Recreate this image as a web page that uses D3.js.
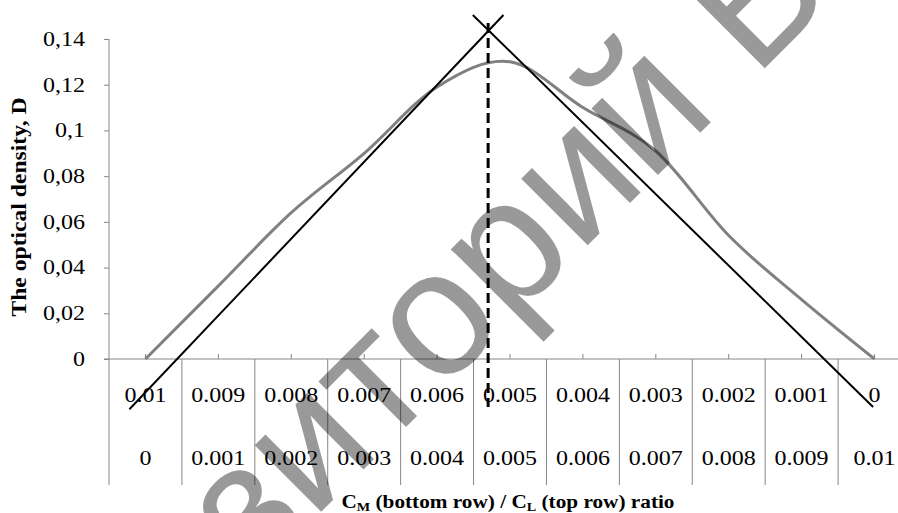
<!DOCTYPE html>
<html>
<head>
<meta charset="utf-8">
<script src="https://cdn.jsdelivr.net/npm/d3@7"></script>
<style>
  body { margin: 0; background: #fff; }
  svg { display: block; }
</style>
</head>
<body>
<svg id="chart" width="898" height="513"></svg>
<script>
// category table: C_L on top, C_M on bottom
const topRow = ['0.01', '0.009', '0.008', '0.007', '0.006', '0.005', '0.004', '0.003', '0.002', '0.001', '0'];
const bottomRow = ['0', '0.001', '0.002', '0.003', '0.004', '0.005', '0.006', '0.007', '0.008', '0.009', '0.01'];
// optical density
const density = [0, 0.032, 0.064, 0.090, 0.119, 0.130, 0.110, 0.091, 0.054, 0.026, 0];
const yTicks = [0, 0.02, 0.04, 0.06, 0.08, 0.1, 0.12, 0.14];
// tangent lines and the dashed peak marker, as [category index, D]
const leftTangent = [[-0.22, -0.022], [4.91, 0.1505]];
const rightTangent = [[4.49, 0.1505], [9.98, -0.021]];
const peakLine = [[4.70, 0.147], [4.70, -0.021]];

const svg = d3.select('#chart');
const x = d3.scaleLinear().domain([-0.5, 10.5]).range([109, 911]);
const y = d3.scaleLinear().domain([0, 0.14]).range([359, 39]);
const tableBottom = 485;
const axisColor = '#868686';
const serif = '"Times New Roman", "Liberation Serif", serif';

// y axis
const yAxis = d3.axisLeft(y)
  .tickValues(yTicks)
  .tickSize(5)
  .tickPadding(19)
  .tickFormat(d => d === 0 ? '0' : String(+d.toFixed(2)).replace('.', ','));
const gy = svg.append('g')
  .attr('transform', `translate(${x(-0.5)},0)`)
  .call(yAxis);
gy.select('.domain').remove();
gy.selectAll('line').attr('stroke', axisColor);
gy.selectAll('text')
  .attr('class', 'stretch')
  .attr('font-family', serif)
  .attr('font-size', 20)
  .attr('fill', '#000');

svg.append('line')
  .attr('x1', x(-0.5)).attr('x2', x(-0.5))
  .attr('y1', y(0.14)).attr('y2', tableBottom)
  .attr('stroke', axisColor);

// category axis + table
svg.append('line')
  .attr('x1', x(-0.5) - 5).attr('x2', x(10.5))
  .attr('y1', y(0)).attr('y2', y(0))
  .attr('stroke', axisColor);

svg.append('g').selectAll('line')
  .data(d3.range(1, 12))
  .join('line')
  .attr('x1', i => x(i - 0.5)).attr('x2', i => x(i - 0.5))
  .attr('y1', y(0)).attr('y2', tableBottom)
  .attr('stroke', axisColor);

svg.append('g').selectAll('line')
  .data(d3.range(topRow.length))
  .join('line')
  .attr('x1', i => x(i)).attr('x2', i => x(i))
  .attr('y1', y(0)).attr('y2', y(0) - 5)
  .attr('stroke', axisColor);

function rowLabels(labels, cy) {
  svg.append('g').selectAll('text')
    .data(labels)
    .join('text')
    .attr('class', 'stretch')
    .attr('x', (d, i) => x(i))
    .attr('y', cy)
    .attr('dy', '0.35em')
    .attr('text-anchor', 'middle')
    .attr('font-family', serif)
    .attr('font-size', 20)
    .text(d => d);
}
rowLabels(topRow, 395);
rowLabels(bottomRow, 458);

// axis titles
svg.append('text')
  .attr('transform', 'translate(26,207) rotate(-90)')
  .attr('text-anchor', 'middle')
  .attr('font-family', serif)
  .attr('font-weight', 'bold')
  .attr('font-size', 20)
  .attr('textLength', 219)
  .attr('lengthAdjust', 'spacingAndGlyphs')
  .text('The optical density, D');

const xt = svg.append('text')
  .attr('x', 508)
  .attr('y', 508)
  .attr('text-anchor', 'middle')
  .attr('font-family', serif)
  .attr('font-weight', 'bold')
  .attr('font-size', 18)
  .attr('textLength', 333)
  .attr('lengthAdjust', 'spacingAndGlyphs');
xt.append('tspan').text('C');
xt.append('tspan').attr('font-size', 12).attr('dy', 3).text('M');
xt.append('tspan').attr('dy', -3).text(' (bottom row) / C');
xt.append('tspan').attr('font-size', 12).attr('dy', 3).text('L');
xt.append('tspan').attr('dy', -3).text(' (top row) ratio');

// widen the thin serif labels a little
svg.selectAll('text.stretch').each(function () {
  const w = this.getComputedTextLength();
  d3.select(this).attr('textLength', w * 1.2).attr('lengthAdjust', 'spacingAndGlyphs');
});

// data curve
const curve = d3.line()
  .x((d, i) => x(i))
  .y(d => y(d))
  .curve(d3.curveCardinal.tension(0));
svg.append('path')
  .datum(density)
  .attr('d', curve)
  .attr('fill', 'none')
  .attr('stroke', '#808080')
  .attr('stroke-width', 3);

// tangents
const seg = d3.line().x(d => x(d[0])).y(d => y(d[1]));
[leftTangent, rightTangent].forEach(pts => {
  svg.append('path')
    .attr('d', seg(pts))
    .attr('fill', 'none')
    .attr('stroke', '#000')
    .attr('stroke-width', 2);
});
svg.append('path')
  .attr('d', seg(peakLine))
  .attr('fill', 'none')
  .attr('stroke', '#000')
  .attr('stroke-width', 3)
  .attr('stroke-dasharray', '10,5');

// repository watermark
const wmSize = 178;
const wm = svg.append('text')
  .attr('font-family', '"Liberation Sans", Arial, sans-serif')
  .attr('font-size', wmSize)
  .attr('fill', '#000')
  .attr('fill-opacity', 0.4)
  .text('Репозиторий БНТУ');
const node = wm.node();
const along = node.getSubStringLength(0, 7) + node.getSubStringLength(7, 1) / 2;
const up = 0.27 * wmSize;
const ux = Math.SQRT1_2, uy = -Math.SQRT1_2;
const nx = -Math.SQRT1_2, ny = -Math.SQRT1_2;
const ox = 440 - along * ux - up * nx;
const oy = 325 - along * uy - up * ny;
wm.attr('transform', `translate(${ox},${oy}) rotate(-45)`);
</script>
</body>
</html>
